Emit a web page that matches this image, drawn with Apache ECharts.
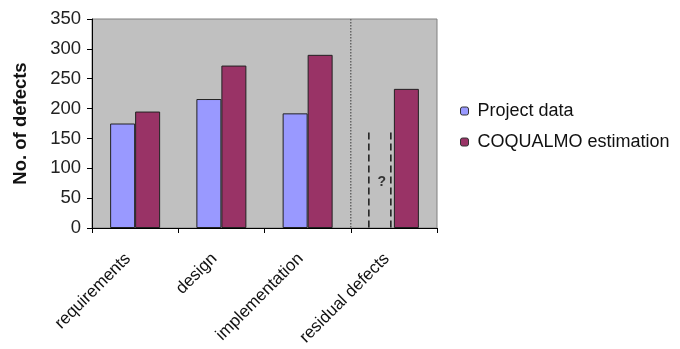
<!DOCTYPE html>
<html>
<head>
<meta charset="utf-8">
<script src="https://cdn.jsdelivr.net/npm/echarts@6/dist/echarts.min.js"></script>
<style>html,body{margin:0;padding:0;background:#fff}#c{width:680px;height:349px}</style>
</head>
<body>
<div id="c"></div>
<script>
const categories = ['requirements', 'design', 'implementation', 'residual defects'];
const projectData = [175, 216, 192, null];
const coqualmo = [195, 272, 290, 233];
const unknownMarker = [[3, 160]];
const yTicks = { min: 0, max: 350, interval: 50 };

const chart = echarts.init(document.getElementById('c'));
const font = 'Liberation Sans, Arial, sans-serif';
chart.setOption({
  backgroundColor: '#ffffff',
  animation: false,
  grid: { left: 92, right: 243, top: 19, bottom: 121, show: true, backgroundColor: '#C0C0C0', borderColor: '#808080', borderWidth: 1 },
  legend: {
    orient: 'vertical', left: 455, top: 97,
    itemWidth: 8, itemHeight: 8, itemGap: 13,
    textStyle: { fontFamily: font, fontSize: 18, color: '#111', padding: [0,0,0,4] },
    data: [
      { name: 'Project data', itemStyle: { color: '#9999FF', borderColor: '#333', borderWidth: 1 } },
      { name: 'COQUALMO estimation', itemStyle: { color: '#993366', borderColor: '#333', borderWidth: 1 } }
    ]
  },
  xAxis: {
    type: 'category', data: categories,
    axisLine: { lineStyle: { color: '#000', width: 1 } },
    axisTick: { show: true, length: 5, lineStyle: { color: '#000' } },
    axisLabel: { rotate: 45, interval: 0, fontFamily: font, fontSize: 17, color: '#111', margin: 21, padding: [0, 10, 0, 0] }
  },
  yAxis: {
    type: 'value', min: yTicks.min, max: yTicks.max, interval: yTicks.interval,
    name: 'No. of defects', nameLocation: 'middle', nameRotate: 90, nameGap: 62,
    nameTextStyle: { fontFamily: font, fontSize: 18.5, fontWeight: 'bold', color: '#111' },
    axisLine: { show: true, lineStyle: { color: '#000', width: 1 } },
    axisTick: { show: true, length: 5, lineStyle: { color: '#000' } },
    splitLine: { show: false },
    axisLabel: { fontFamily: font, fontSize: 18.5, color: '#222', margin: 11 }
  },
  series: [
    { name: 'Project data', type: 'bar', data: projectData, barWidth: 25, barGap: '0%',
      itemStyle: { color: '#9999FF', borderColor: '#222', borderWidth: 1 } },
    { name: 'COQUALMO estimation', type: 'bar', data: coqualmo, barWidth: 25,
      itemStyle: { color: '#993366', borderColor: '#222', borderWidth: 1 } },
    { name: 'marker', type: 'custom', data: unknownMarker, z: 5,
      renderItem: function (params, api) {
        const cat = api.value(0);
        const top = api.coord([cat, api.value(1)]);
        const base = api.coord([cat, 0]);
        const plotTop = api.coord([cat, yTicks.max]);
        const cw = api.size([1, 0])[0];
        const cx = top[0];
        const x1 = cx - 25, x2 = cx - 3;
        const sep = cx - cw / 2;
        const dash = { stroke: '#000', lineWidth: 1.3, lineDash: [7, 4] };
        const qy = api.coord([cat, 77])[1];
        return { type: 'group', children: [
          { type: 'line', shape: { x1: sep, y1: plotTop[1], x2: sep, y2: base[1] }, style: { stroke: '#666', lineWidth: 1.5, lineDash: [1.5, 1.5] } },
          { type: 'line', shape: { x1: x1, y1: top[1], x2: x1, y2: base[1] }, style: dash },
          { type: 'line', shape: { x1: x2, y1: top[1], x2: x2, y2: base[1] }, style: dash },
          { type: 'text', x: cx - 12, y: qy, style: { text: '?', fill: '#333', font: 'bold 14px ' + font, align: 'center', verticalAlign: 'middle' } }
        ] };
      }
    }
  ]
});
</script>
</body>
</html>
